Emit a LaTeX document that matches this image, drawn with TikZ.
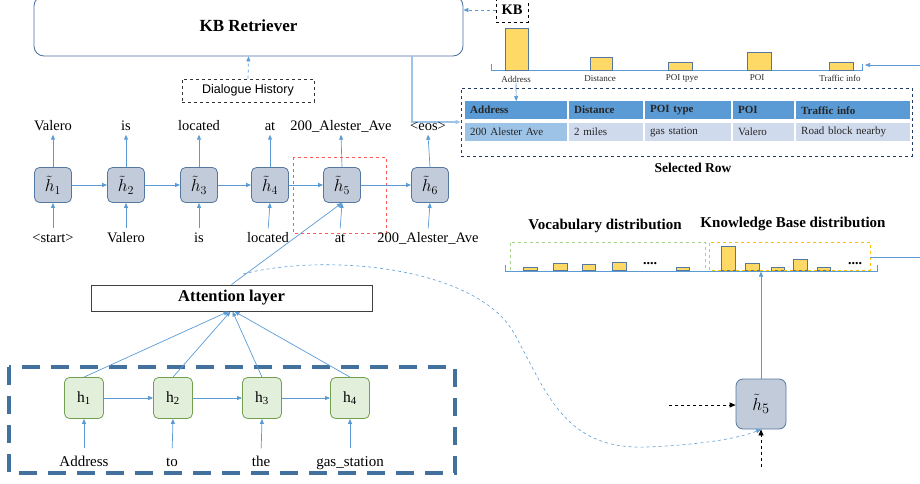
\documentclass[tikz,border=0pt]{standalone}
\usepackage{fontspec}
\setmainfont{Liberation Serif}
\newfontfamily\dhfont{Liberation Sans}
\usetikzlibrary{arrows.meta}
\definecolor{lblue}{RGB}{91,155,213}
\definecolor{pblue}{RGB}{157,195,230}
\definecolor{boxb}{RGB}{84,120,160}
\definecolor{boxf}{RGB}{194,203,217}
\definecolor{greenb}{RGB}{112,160,80}
\definecolor{greenf}{RGB}{226,239,218}
\definecolor{retrb}{RGB}{70,110,160}
\definecolor{encb}{RGB}{65,113,156}
\definecolor{hdfill}{RGB}{91,155,213}
\definecolor{dtfirst}{RGB}{157,195,230}
\definecolor{dtfill}{RGB}{207,218,236}
\definecolor{barfill}{RGB}{255,217,102}
\definecolor{navy}{RGB}{31,56,100}
\definecolor{reddash}{RGB}{255,90,90}
\definecolor{gdash}{RGB}{169,209,142}
\definecolor{ydash}{RGB}{255,192,0}
\definecolor{txtgray}{RGB}{40,40,40}
\newcommand{\htil}[1]{$\tilde{h}_{#1}$}
\begin{document}
\begin{tikzpicture}[x=1pt,y=-1pt,
  arr/.style={draw=lblue, line width=0.7pt, -{Triangle[length=5pt,width=4pt]}},
  darr/.style={draw=black, line width=0.8pt, dashed, -{Triangle[length=6pt,width=5pt]}},
  dbox/.style={draw=boxb, fill=boxf, rounded corners=5pt, minimum width=37pt, minimum height=35pt, inner sep=0pt, line width=0.8pt, font=\fontsize{17}{20}\selectfont},
  ebox/.style={draw=greenb, fill=greenf, rounded corners=5pt, minimum width=39pt, minimum height=41pt, inner sep=0pt, line width=0.8pt, font=\fontsize{15.5}{18}\selectfont},
  lab/.style={font=\fontsize{14.5}{17}\selectfont, text height=10pt, text depth=3pt, inner sep=1pt},
  hd/.style={fill=hdfill, anchor=north west, minimum height=18pt, inner xsep=5pt, inner ysep=0pt, align=left, font=\fontsize{11}{13}\selectfont\bfseries, text=black!85},
  dt/.style={fill=dtfill, anchor=north west, minimum height=18pt, inner xsep=5pt, inner ysep=0pt, align=left, font=\fontsize{11}{13}\selectfont, text=black!85},
  bar/.style={draw=boxb, fill=barfill, line width=0.8pt},
  blab/.style={font=\fontsize{9}{11}\selectfont, text=txtgray, inner sep=1pt},
  dots/.style={font=\fontsize{14}{16}\selectfont\bfseries, inner sep=0pt}
]
\useasboundingbox (0,0) rectangle (920,484);

% ---------- KB Retriever ----------
\node[draw=retrb, line width=0.8pt, rounded corners=10pt, minimum width=429pt, minimum height=60pt,
      font=\fontsize{17}{20}\selectfont\bfseries] (retr) at (248.5,26) {KB Retriever};
\node[draw=black!80, dashed, line width=0.8pt, minimum width=132pt, minimum height=23pt,
      font=\dhfont\fontsize{12.5}{15}\selectfont] (dh) at (248,90.5) {Dialogue History};
\draw[arr, dashed] (dh.north) -- (retr.south);

\node[draw=black, dashed, line width=0.8pt, minimum width=32pt, minimum height=25pt,
      font=\fontsize{14.5}{17}\selectfont\bfseries] (kb) at (512,10) {KB};
\draw[arr, dashed] (kb.west) -- (retr.east |- kb.west);

% ---------- KB bars ----------
\draw[draw=lblue, line width=0.8pt] (491,64) -- (491,70) -- (862,70) -- (862,64);
\draw[bar] (505,70) rectangle (528,28);
\draw[bar] (590,70) rectangle (612,57);
\draw[bar] (668,70) rectangle (692,62);
\draw[bar] (747,70) rectangle (771,52);
\draw[bar] (829,70) rectangle (853,62);
\node[blab] (bl1) at (516,79) {Address};
\node[blab] (bl2) at (600,79) {Distance};
\node[blab] (bl3) at (682,78) {POI tpye};
\node[blab] (bl4) at (757,78) {POI};
\node[blab] (bl5) at (840,78) {Traffic info};
\coordinate (rin) at (920,65);
\draw[arr] (rin) -- (865,65);

% ---------- Selected row table ----------
\node[draw=navy, dashed, line width=0.9pt, minimum width=451pt, minimum height=68pt, inner sep=0pt] (sel) at (686.5,122) {};
\foreach \i/\x/\w/\h/\d in {1/465/102/Address/200 Alester Ave,
                            2/569/74/Distance/2 miles,
                            3/645/86/POI type/gas station,
                            4/733/61/POI/Valero,
                            5/796/114/Traffic info/Road block nearby}{
  \node[hd, text width=\w pt - 10pt] (hd\i) at (\x,101) {\h};
  \node[dt, text width=\w pt - 10pt] (dt\i) at (\x,123) {\d};
}
\node[dt, fill=dtfirst, text width=92pt] at (465,123) {200 Alester Ave};
\node[font=\fontsize{13.5}{16}\selectfont\bfseries] (selr) at (693,168) {Selected Row};
\draw[arr] (bl1.south) -- (hd1.north);
\coordinate (rtx) at (412,0);
\draw[draw=pblue, line width=1.3pt, -{Triangle[length=5pt,width=4pt,fill=lblue]}] (retr.south -| rtx) |- (sel.west);

% ---------- Decoder ----------
\draw[draw=reddash, dashed, line width=0.9pt] (293,157) rectangle (386,233);
\foreach \i/\x in {1/53,2/126,3/199,4/270,5/342,6/430}{
  \node[dbox] (d\i) at (\x,185) {\htil{\i}};
}
\foreach \i/\j in {1/2,2/3,3/4,4/5,5/6}{ \draw[arr] (d\i.east) -- (d\j.west); }
\foreach \i/\x/\t in {1/53/Valero,2/126/is,3/199/located,4/270/at,5/341/200\_Alester\_Ave,6/428/\textless eos\textgreater}{
  \node[lab] (o\i) at (\x,127) {\t};
  \draw[arr] (d\i.north) -- (o\i.south);
}
\foreach \i/\x/\t in {1/53/\textless start\textgreater,2/126/Valero,3/199/is,4/268/located,5/340/at,6/428/200\_Alester\_Ave}{
  \node[lab] (in\i) at (\x,239) {\t};
  \draw[arr, shorten <=3pt] (in\i.north) -- (d\i.south);
}

% ---------- Attention + encoder ----------
\node[draw=black!75, line width=0.9pt, minimum width=281pt, minimum height=26pt, inner sep=0pt,
      font=\fontsize{16.5}{19}\selectfont\bfseries] (att) at (231.5,298) {Attention layer};
\draw[arr] (att.north) -- (d5.south);

\draw[draw=encb, line width=3.5pt, dash pattern=on 18pt off 11pt] (9,367) rectangle (455,473);
\foreach \i/\x in {1/84,2/173,3/262,4/350}{
  \node[ebox] (e\i) at (\x,398) {h\textsubscript{\i}};
}
\foreach \i/\j in {1/2,2/3,3/4}{ \draw[arr] (e\i.east) -- (e\j.west); }
\foreach \i/\x/\t in {1/84/Address,2/172/to,3/261/the,4/350/gas\_station}{
  \node[lab, font=\fontsize{15}{18}\selectfont] (w\i) at (\x,463) {\t};
  \draw[arr, shorten <=7pt] (w\i.north) -- (e\i.south);
}
\draw[arr] (e1.north) -- ([xshift=-3pt]att.south);
\draw[arr] (e2.north) -- ([xshift=-1pt]att.south);
\draw[arr] (e3.north) -- ([xshift=1pt]att.south);
\draw[arr] (e4.north) -- ([xshift=3pt]att.south);

% ---------- Output distributions ----------
\node[font=\fontsize{15}{18}\selectfont\bfseries] (vd) at (605,226) {Vocabulary distribution};
\node[font=\fontsize{15}{18}\selectfont\bfseries] (kd) at (793,224) {Knowledge Base distribution};
\draw[draw=lblue, line width=0.8pt] (505,265) -- (505,271) -- (877,271) -- (877,265);
\draw[bar] (523,270) rectangle (537,267);
\draw[bar] (553,270) rectangle (567,263);
\draw[bar] (582,270) rectangle (595,264);
\draw[bar] (612,270) rectangle (626,262);
\draw[bar] (676,270) rectangle (689,267);
\draw[bar] (721,270) rectangle (735,246);
\draw[bar] (745,270) rectangle (759,263);
\draw[bar] (771,270) rectangle (784,267);
\draw[bar] (793,270) rectangle (807,259);
\draw[bar] (817,270) rectangle (830,267);
\node[dots] (dv) at (650,264) {....};
\node[dots] (dk) at (855,264) {....};
\draw[draw=gdash, dashed, line width=0.8pt] (510,270) -- (510,242) -- (705,242) -- (705,270);
\draw[draw=ydash, dashed, line width=0.8pt] (709,270) -- (709,242) -- (870,242) -- (870,270) -- (709,270);
\coordinate (rout) at (920,257);
\draw[draw=lblue, line width=0.8pt] (870,257) -- (rout);

% ---------- right decoder cell ----------
\node[dbox, minimum width=50pt, minimum height=50pt, rounded corners=7pt, font=\fontsize{19}{22}\selectfont] (hr) at (761,404) {\htil{5}};
\coordinate (dax) at (761,271.5);
\draw[arr] (hr.north) -- (dax);
\coordinate (hl) at (669,405);
\coordinate (hb) at (761,467);
\draw[darr] (hl) -- (hr.west |- hl);
\draw[darr] (hb) -- (hr.south);
\coordinate (cs) at (243,274);
\draw[arr, dashed, line width=0.6pt] (cs) .. controls (330,252) and (480,268) .. (515,335)
   .. controls (548,395) and (565,450) .. (647,447)
   .. controls (700,445) and (740,438) .. (hr.south);
\end{tikzpicture}
\end{document}
